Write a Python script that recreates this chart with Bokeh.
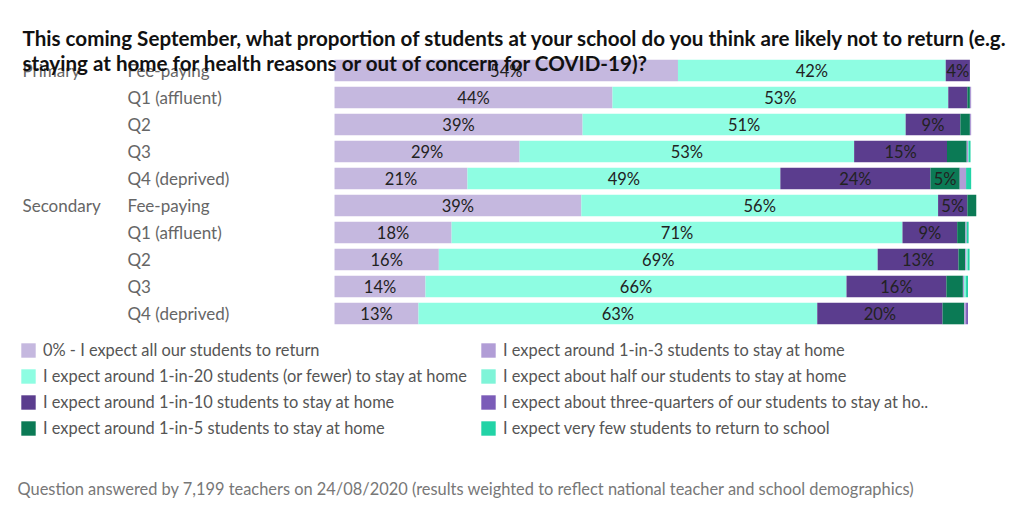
from bokeh.plotting import figure
from bokeh.models import ColumnDataSource, Range1d, Legend, LegendItem, Label
from bokeh.embed import file_html
from bokeh.resources import INLINE
from bokeh.core.properties import value

# ---------------- data ----------------
groups = ["Primary", "", "", "", "", "Secondary", "", "", "", ""]
subgroups = ["Fee-paying", "Q1 (affluent)", "Q2", "Q3", "Q4 (deprived)",
             "Fee-paying", "Q1 (affluent)", "Q2", "Q3", "Q4 (deprived)"]

series_labels = [
    "0% - I expect all our students to return",
    "I expect around 1-in-20 students (or fewer) to stay at home",
    "I expect around 1-in-10 students to stay at home",
    "I expect around 1-in-5 students to stay at home",
    "I expect around 1-in-3 students to stay at home",
    "I expect about half our students to stay at home",
    "I expect about three-quarters of our students to stay at ho..",
    "I expect very few students to return to school",
]

all_return     = [54.0, 43.7, 39.0, 29.1, 20.9, 38.8, 18.4, 16.4, 14.3, 13.2]
one_in_20      = [42.1, 52.8, 50.8, 52.6, 49.2, 56.1, 70.9, 69.0, 66.2, 62.7]
one_in_10      = [3.8, 3.0, 8.6, 14.6, 23.6, 4.6, 8.6, 12.7, 15.7, 19.7]
one_in_5       = [0.0, 0.4, 1.5, 3.1, 4.6, 1.4, 1.3, 1.05, 2.6, 3.4]
one_in_3       = [0.0, 0.2, 0.2, 0.2, 1.0, 0.0, 0.2, 0.2, 0.2, 0.3]
half           = [0.0, 0.0, 0.0, 0.1, 0.0, 0.0, 0.0, 0.2, 0.3, 0.0]
three_quarters = [0.0, 0.0, 0.0, 0.0, 0.0, 0.0, 0.0, 0.0, 0.0, 0.3]
very_few       = [0.0, 0.0, 0.0, 0.3, 0.8, 0.0, 0.3, 0.3, 0.3, 0.0]

series = [all_return, one_in_20, one_in_10, one_in_5,
          one_in_3, half, three_quarters, very_few]
colors = ["#c5b8df", "#8efde2", "#5b3d8e", "#0b7a55",
          "#b19dd6", "#7ff4d8", "#7b5cb8", "#22d3a6"]

title_lines = [
    "This coming September, what proportion of students at your school do you think are likely not to return (e.g.",
    "staying at home for health reasons or out of concern for COVID-19)?",
]
footer = "Question answered by 7,199 teachers on 24/08/2020 (results weighted to reflect national teacher and school demographics)"

# ---------------- figure ----------------
rows = list(range(len(subgroups)))
keys = [f"s{i}" for i in range(len(series))]
src = ColumnDataSource(data=dict(row=rows, **{k: v for k, v in zip(keys, series)}))

p = figure(width=1008, height=504,
           x_range=Range1d(-52.52, 105.97), y_range=Range1d(16.074, -2.593),
           output_backend="svg", toolbar_location=None,
           x_axis_location=None, y_axis_location=None, min_border=0)
p.grid.visible = False
p.outline_line_color = None
p.background_fill_color = "white"

renderers = p.hbar_stack(keys, y="row", height=0.8, color=colors,
                         line_color=None, source=src)

# value labels
lx, ly, lt = [], [], []
for r in rows:
    cum = 0.0
    for s in series:
        v = s[r]
        if v >= 3.6:
            lx.append(cum + v / 2)
            ly.append(r)
            lt.append(f"{v:.0f}%")
        cum += v
p.text(x=lx, y=ly, text=lt, text_align="center", text_baseline="middle",
       text_font=value("Lato"), text_font_size="16.5px", text_color="#222222")

# category labels
p.text(x=[-49.06] * len(rows), y=rows, text=groups, text_align="left",
       text_baseline="middle", text_font=value("Lato"), text_font_size="17px",
       text_color="#666666")
p.text(x=[-32.55] * len(rows), y=rows, text=subgroups, text_align="left",
       text_baseline="middle", text_font=value("Lato"), text_font_size="17px",
       text_color="#666666")

# legends
def make_legend(idx, x):
    items = [LegendItem(label=series_labels[i], renderers=[renderers[i]]) for i in idx]
    lg = Legend(items=items, location=(x, 67), orientation="vertical",
                glyph_width=18, glyph_height=18, label_height=18,
                spacing=7, padding=0, margin=0, label_standoff=6,
                label_text_font="Lato", label_text_font_size="16.4px",
                label_text_color="#555555", border_line_color=None,
                background_fill_alpha=0)
    p.add_layout(lg)

make_legend([0, 1, 2, 3], 19)
make_legend([4, 5, 6, 7], 479)

# title
for i, line in enumerate(title_lines):
    p.add_layout(Label(x=22, y=467 - 25 * i, x_units="screen", y_units="screen",
                       text=line, text_font="Lato", text_font_size="20.6px",
                       text_font_style="bold", text_color="#111111",
                       text_baseline="middle"))

# footer
p.add_layout(Label(x=17, y=16, x_units="screen", y_units="screen", text=footer,
                   text_font="Lato", text_font_size="16.4px", text_color="#777777",
                   text_baseline="middle"))

open("out.html", "w").write(file_html(p, INLINE))
